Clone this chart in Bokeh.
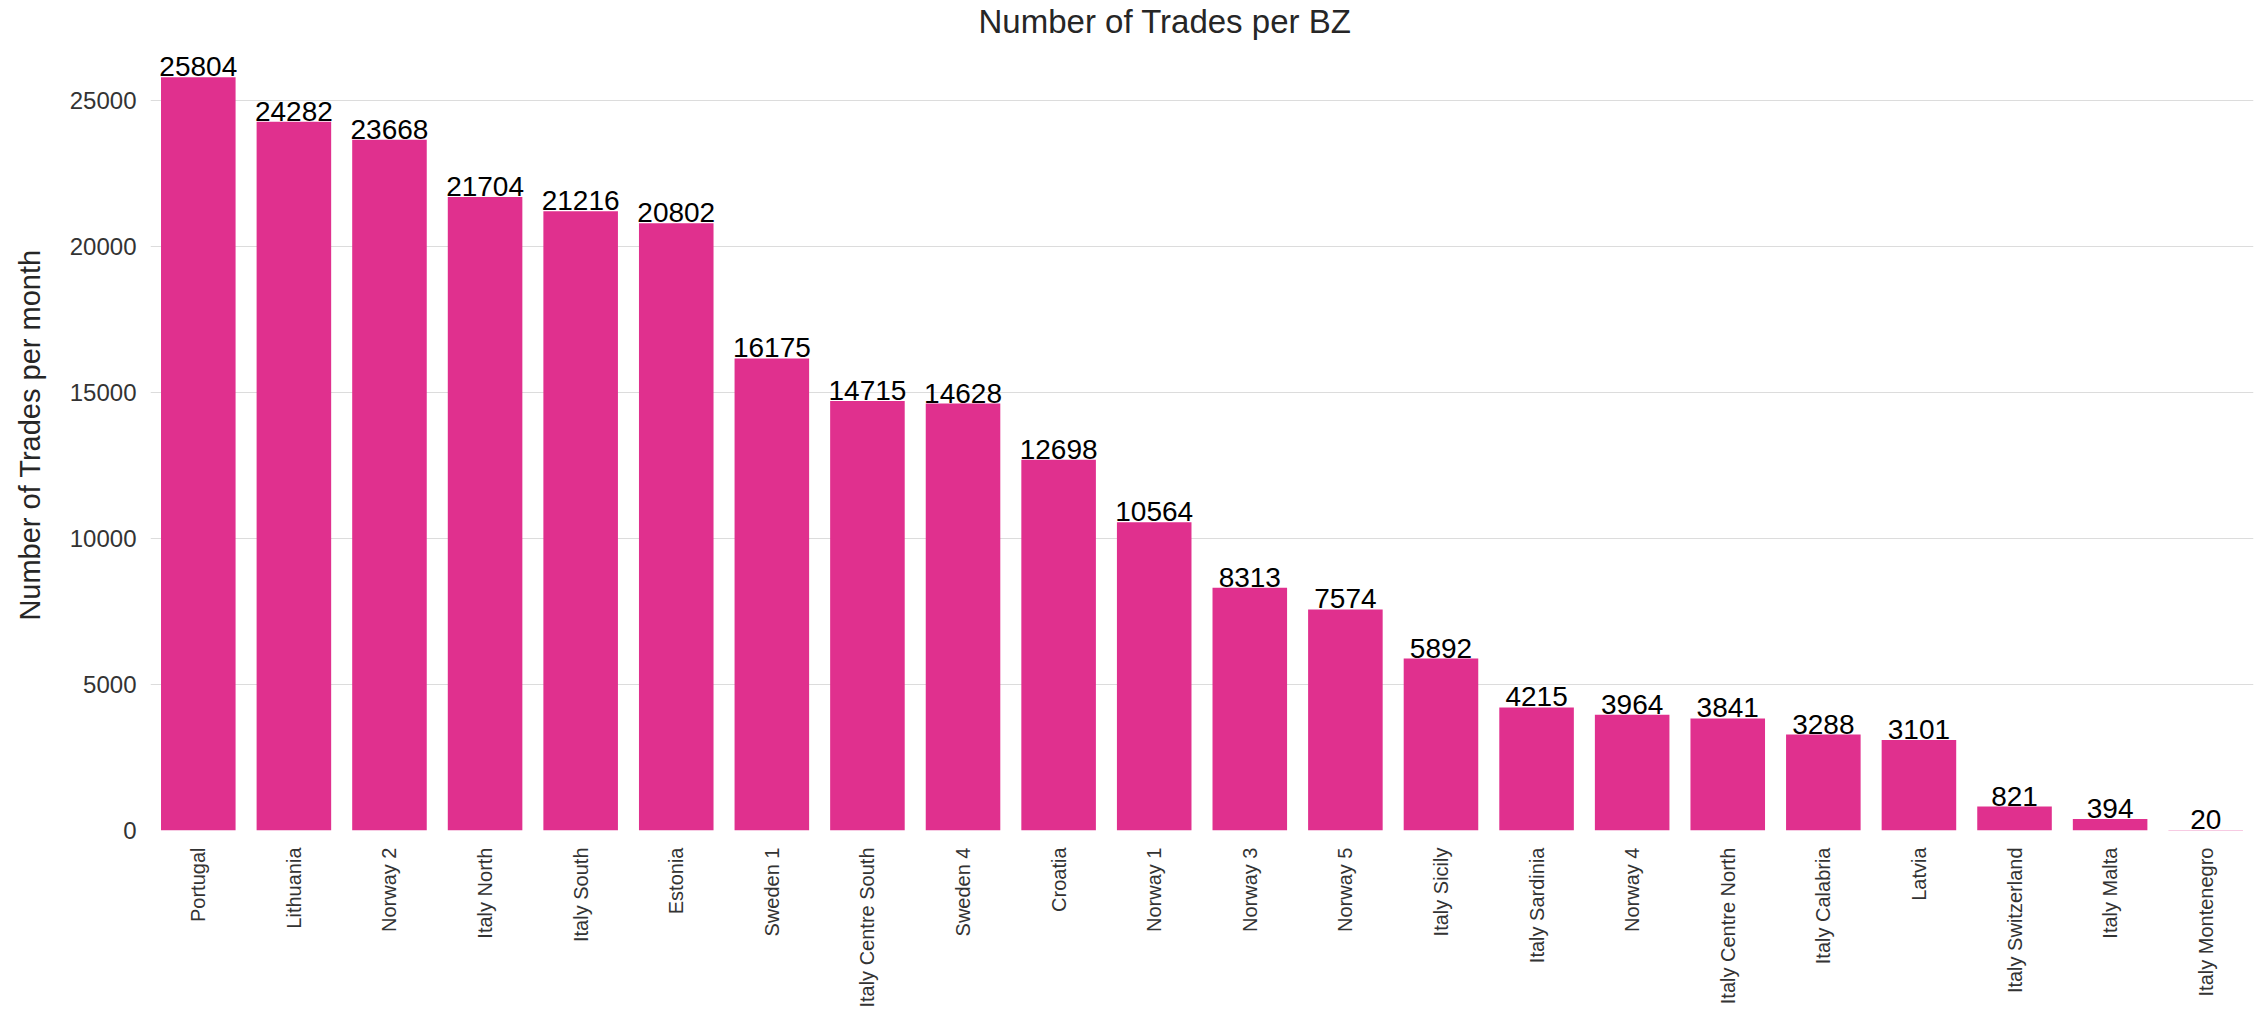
from bokeh.plotting import figure
from bokeh.models import ColumnDataSource, FactorRange, Range1d, FixedTicker, NumeralTickFormatter
from bokeh.core.properties import value
from bokeh.embed import file_html
from bokeh.resources import INLINE
import math

zones = ["Portugal", "Lithuania", "Norway 2", "Italy North", "Italy South", "Estonia",
         "Sweden 1", "Italy Centre South", "Sweden 4", "Croatia", "Norway 1", "Norway 3",
         "Norway 5", "Italy Sicily", "Italy Sardinia", "Norway 4", "Italy Centre North",
         "Italy Calabria", "Latvia", "Italy Switzerland", "Italy Malta", "Italy Montenegro"]
trades = [25804, 24282, 23668, 21704, 21216, 20802, 16175, 14715, 14628, 12698, 10564,
          8313, 7574, 5892, 4215, 3964, 3841, 3288, 3101, 821, 394, 20]
y_ticks = [0, 5000, 10000, 15000, 20000, 25000]

FONT = "Liberation Sans"
BAR = "#E0308E"

src = ColumnDataSource(dict(zone=zones, trades=trades, label=[str(v) for v in trades]))

p = figure(x_range=FactorRange(*zones), y_range=Range1d(0, 27100),
           frame_width=2103, frame_height=791,
           min_border_left=150, min_border_right=3, min_border_top=0, min_border_bottom=5,
           output_backend="svg", toolbar_location=None,
           title="Number of Trades per BZ")

p.vbar(x="zone", top="trades", width=0.78, source=src, color=BAR, line_color=None)
p.text(x="zone", y="trades", text="label", source=src, text_align="center",
       text_baseline="bottom", y_offset=-1, text_font=value(FONT), text_font_size="28px",
       text_color="#000000")

p.title.align = "left"
p.title.text_font = FONT
p.title.text_font_size = "33px"
p.title.text_font_style = "normal"
p.title.text_color = "#262626"
p.title.offset = 828
p.title.standoff = 0

p.outline_line_color = None
p.xgrid.grid_line_color = None
p.ygrid.grid_line_color = "#dcdcdc"
p.ygrid.grid_line_width = 1.2

p.yaxis.ticker = FixedTicker(ticks=y_ticks)
p.yaxis.formatter = NumeralTickFormatter(format="0")
p.yaxis.axis_label = "Number of Trades per month"
p.yaxis.axis_label_text_font = FONT
p.yaxis.axis_label_text_font_size = "29px"
p.yaxis.axis_label_text_font_style = "normal"
p.yaxis.axis_label_text_color = "#262626"
p.yaxis.axis_label_standoff = 21
p.yaxis.major_label_text_font = FONT
p.yaxis.major_label_text_font_size = "24px"
p.yaxis.major_label_text_color = "#333333"
p.yaxis.major_label_standoff = 8

p.xaxis.major_label_orientation = math.pi / 2
p.xaxis.major_label_text_font = FONT
p.xaxis.major_label_text_font_size = "20px"
p.xaxis.major_label_text_color = "#333333"
p.xaxis.major_label_standoff = 11

for ax in (p.xaxis[0], p.yaxis[0]):
    ax.axis_line_color = None
    ax.major_tick_line_color = None
    ax.minor_tick_line_color = None

open("out.html", "w").write(file_html(p, INLINE))
